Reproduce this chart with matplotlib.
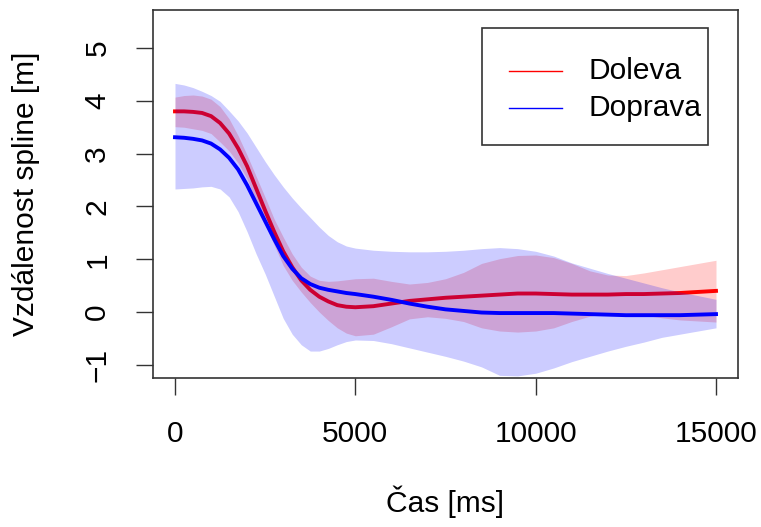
import matplotlib.pyplot as plt
from matplotlib.patches import Rectangle

plt.rcParams['font.family'] = ['Liberation Sans', 'DejaVu Sans']

# time grid [ms]
cas = [0, 250, 500, 750, 1000, 1250, 1500, 1750, 2000, 2250, 2500, 2750, 3000, 3250, 3500,
       3750, 4000, 4250, 4500, 4750, 5000,
       5500, 6000, 6500, 7000, 7500, 8000, 8500, 9000, 9500, 10000,
       10500, 11000, 11500, 12000, 12500, 13000, 13500, 14000, 14500, 15000]

# Doleva (left)
doleva = [3.80, 3.80, 3.79, 3.77, 3.71, 3.58, 3.38, 3.10, 2.76, 2.34, 1.92, 1.52, 1.15, 0.85, 0.60,
          0.42, 0.29, 0.20, 0.13, 0.10, 0.09,
          0.11, 0.16, 0.21, 0.24, 0.27, 0.29, 0.31, 0.33, 0.35, 0.35,
          0.34, 0.33, 0.33, 0.33, 0.34, 0.34, 0.35, 0.36, 0.38, 0.40]
doleva_hi = [4.07, 4.10, 4.11, 4.09, 4.03, 3.89, 3.66, 3.34, 2.97, 2.57, 2.17, 1.76, 1.42, 1.10, 0.85,
             0.68, 0.60, 0.58, 0.59, 0.61, 0.63,
             0.64, 0.58, 0.53, 0.56, 0.63, 0.75, 0.92, 1.01, 1.07, 1.08,
             1.03, 0.92, 0.78, 0.70, 0.69, 0.74, 0.80, 0.86, 0.92, 0.98]
doleva_lo = [3.51, 3.50, 3.47, 3.44, 3.38, 3.22, 3.05, 2.82, 2.52, 2.08, 1.66, 1.27, 0.88, 0.60, 0.38,
             0.18, 0.00, -0.16, -0.30, -0.40, -0.45,
             -0.42, -0.28, -0.13, -0.09, -0.12, -0.18, -0.30, -0.36, -0.38, -0.36,
             -0.30, -0.18, -0.08, -0.02, -0.01, -0.06, -0.11, -0.15, -0.17, -0.19]

# Doprava (right)
doprava = [3.31, 3.30, 3.28, 3.25, 3.19, 3.08, 2.92, 2.70, 2.40, 2.06, 1.72, 1.38, 1.06, 0.82, 0.64,
           0.53, 0.46, 0.42, 0.39, 0.36, 0.34,
           0.29, 0.23, 0.16, 0.10, 0.05, 0.02, -0.01, -0.02, -0.02, -0.02,
           -0.02, -0.03, -0.04, -0.05, -0.06, -0.06, -0.06, -0.06, -0.05, -0.04]
doprava_hi = [4.33, 4.30, 4.25, 4.18, 4.10, 3.99, 3.81, 3.62, 3.39, 3.12, 2.85, 2.60, 2.37, 2.16, 1.97,
              1.79, 1.61, 1.45, 1.33, 1.25, 1.21,
              1.17, 1.15, 1.14, 1.14, 1.15, 1.17, 1.20, 1.22, 1.20, 1.15,
              1.06, 0.93, 0.83, 0.73, 0.64, 0.55, 0.46, 0.38, 0.31, 0.24]
doprava_lo = [2.33, 2.34, 2.35, 2.37, 2.38, 2.33, 2.18, 1.90, 1.52, 1.10, 0.72, 0.30, -0.12, -0.42, -0.62,
              -0.74, -0.74, -0.69, -0.62, -0.56, -0.53,
              -0.54, -0.60, -0.68, -0.76, -0.84, -0.93, -1.04, -1.20, -1.21, -1.16,
              -1.06, -0.94, -0.84, -0.74, -0.65, -0.57, -0.48, -0.42, -0.36, -0.30]

labels = ['Doleva', 'Doprava']
colors = ['red', 'blue']

fs = 21.5

fig = plt.figure(figsize=(7.61, 5.27), dpi=100)
ax = fig.add_axes([153 / 761, 1 - 378 / 527, 585 / 761, 368 / 527])

# same drawing order as the original: red band, red line, blue band, blue line
ax.fill_between(cas, doleva_lo, doleva_hi, color='red', alpha=0.2, linewidth=0, zorder=1)
ax.plot(cas, doleva, color='red', lw=2.8, zorder=2)
ax.fill_between(cas, doprava_lo, doprava_hi, color='blue', alpha=0.2, linewidth=0, zorder=3)
ax.plot(cas, doprava, color='blue', lw=2.8, zorder=4)

ax.set_xlim(-610, 15610)
ax.set_ylim(-1.25, 5.72)
ax.set_xticks([0, 5000, 10000, 15000])
ax.set_yticks([-1, 0, 1, 2, 3, 4, 5])
ax.tick_params(length=12, width=1, pad=18, labelsize=fs, color='#333333')
for lab in ax.get_yticklabels():
    lab.set_rotation(90)
    lab.set_va('center')
for sp in ax.spines.values():
    sp.set_linewidth(1.2)
    sp.set_color('#333333')

ax.set_xlabel('Čas [ms]', fontsize=fs, labelpad=27)
ax.set_ylabel('Vzdálenost spline [m]', fontsize=fs, labelpad=31)

# legend drawn R-style in axes coordinates
ax.add_patch(Rectangle((0.5624, 0.6332), 0.3863, 0.3179, transform=ax.transAxes,
                       facecolor='white', edgecolor='#333333', lw=1.2, zorder=5))
for i, (lab, col) in enumerate(zip(labels, colors)):
    yy = 0.835 - i * 0.1005
    ax.plot([0.6085, 0.6991], [yy, yy], color=col, lw=1, transform=ax.transAxes, zorder=6)
    ax.text(0.7436, yy, lab, fontsize=fs, va='center', ha='left',
            transform=ax.transAxes, zorder=6)

fig.savefig('out.png', dpi=100)
